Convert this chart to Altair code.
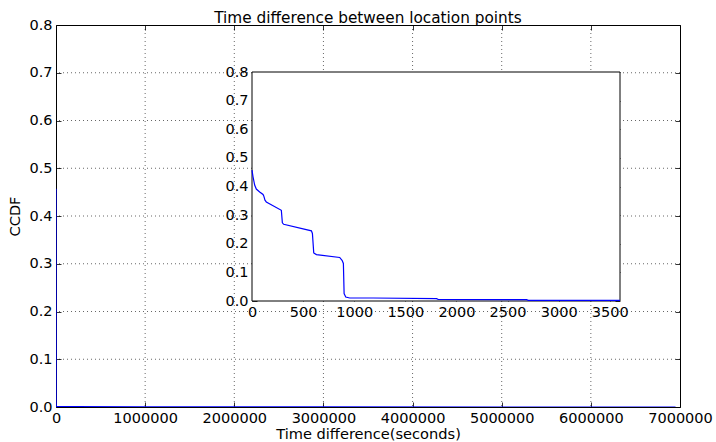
import altair as alt
import pandas as pd

# ---- data ----
# inset (first hour), seconds vs CCDF
time_s = [0, 10, 26, 42, 75, 108, 115, 127, 140, 287, 297, 310, 581, 591, 604, 630,
          858, 881, 894, 901, 917, 956, 1185, 1805, 1821, 2686, 2703, 3600]
ccdf = [0.457, 0.434, 0.405, 0.391, 0.381, 0.372, 0.367, 0.352, 0.346, 0.317, 0.273,
        0.268, 0.245, 0.236, 0.168, 0.162, 0.152, 0.142, 0.131, 0.026, 0.014, 0.0105,
        0.0105, 0.008, 0.006, 0.0047, 0.0023, 0.002]
# long tail shown only in the main plot
tail_time = [10000, 50000, 200000, 1000000, 3000000, 6950000]
tail_ccdf = [0.0015, 0.001, 0.0006, 0.0003, 0.0001, 0.0]

main_x_ticks = [0, 1000000, 2000000, 3000000, 4000000, 5000000, 6000000, 7000000]
main_y_ticks = [0.0, 0.1, 0.2, 0.3, 0.4, 0.5, 0.6, 0.7, 0.8]
inset_x_ticks = [0, 500, 1000, 1500, 2000, 2500, 3000, 3500]
inset_y_ticks = [0.0, 0.1, 0.2, 0.3, 0.4, 0.5, 0.6, 0.7, 0.8]

main_x_domain = [0, 7000000]
main_y_domain = [0, 0.8]
inset_x_domain = [0, 3600]
inset_y_domain = [0, 0.8]

TITLE = "Time difference between location points"
XTITLE = "Time difference(seconds)"
YTITLE = "CCDF"

# ---- layout ----
W, H = 624, 382
PAD_L, PAD_T = 56, 25
INSET_X = [196, 564]
INSET_Y = [276, 47]
TICK = 5
FONT = "DejaVu Sans"
FS = 14.5
BLUE = "#0000ff"

main_df = pd.DataFrame({"t": time_s + tail_time, "c": ccdf + tail_ccdf})
inset_df = pd.DataFrame({"t": time_s, "c": ccdf})
rect_df = pd.DataFrame({"x0": [inset_x_domain[0]], "x1": [inset_x_domain[1]],
                        "y0": [inset_y_domain[0]], "y1": [inset_y_domain[1]]})

mx = alt.Scale(domain=main_x_domain, nice=False, zero=False)
my = alt.Scale(domain=main_y_domain, nice=False, zero=False)
ix = alt.Scale(domain=inset_x_domain, range=INSET_X, nice=False, zero=False)
iy = alt.Scale(domain=inset_y_domain, range=INSET_Y, nice=False, zero=False)

lab = dict(labelFont=FONT, labelFontSize=FS, labelColor="black",
           tickColor="black", tickWidth=0.8, tickSize=TICK, domain=False, grid=False)

main_xa = alt.Axis(orient="bottom", values=main_x_ticks, format="d", offset=-TICK,
                   labelPadding=4, title=XTITLE, titleFont=FONT, titleFontSize=14.6,
                   titleFontWeight="normal", titleColor="black", titlePadding=2,
                   labelFlush=False, labelOverlap=False, **lab)
main_ya = alt.Axis(orient="left", values=main_y_ticks, format=".1f", offset=-TICK,
                   labelPadding=4, title=YTITLE, titleFont=FONT, titleFontSize=14.6,
                   titleFontWeight="normal", titleColor="black", titlePadding=6,
                   labelFlush=False, labelOverlap=False, **lab)

grid_style = dict(color="black", strokeWidth=0.6, strokeDash=[1, 3])
gx = alt.Chart(pd.DataFrame({"t": main_x_ticks[1:-1]})).mark_rule(**grid_style).encode(
    x=alt.X("t:Q", scale=mx, axis=main_xa))
gy = alt.Chart(pd.DataFrame({"c": main_y_ticks[1:-1]})).mark_rule(**grid_style).encode(
    y=alt.Y("c:Q", scale=my, axis=main_ya))
main_line = alt.Chart(main_df).mark_line(color=BLUE, strokeWidth=1.2, clip=True).encode(
    x=alt.X("t:Q", scale=mx, axis=main_xa),
    y=alt.Y("c:Q", scale=my, axis=main_ya),
    order="t:Q")
L1 = alt.layer(gx, gy, main_line)

# main top / right inward ticks
L2 = alt.Chart(main_df).mark_line(strokeOpacity=0).encode(
    x=alt.X("t:Q", scale=mx, axis=alt.Axis(orient="top", values=main_x_ticks, labels=False,
                                             offset=-TICK, title=None, **lab)),
    y=alt.Y("c:Q", scale=my, axis=alt.Axis(orient="right", values=main_y_ticks, labels=False,
                                             offset=-TICK, title=None, **lab)))

# inset
in_xa = alt.Axis(orient="bottom", values=inset_x_ticks, format="d",
                 offset=-(H - INSET_Y[0]) - TICK, labelPadding=4, title=None,
                 labelFlush=False, labelOverlap=False, **lab)
in_ya = alt.Axis(orient="left", values=inset_y_ticks, format=".1f",
                 offset=-INSET_X[0] - TICK, labelPadding=4, title=None,
                 labelFlush=False, labelOverlap=False, **lab)
box = alt.Chart(rect_df).mark_rect(fill="white", stroke="black", strokeWidth=1).encode(
    x=alt.X("x0:Q", scale=ix, axis=in_xa), x2="x1:Q",
    y=alt.Y("y0:Q", scale=iy, axis=in_ya), y2="y1:Q")
in_line = alt.Chart(inset_df).mark_line(color=BLUE, strokeWidth=1.2).encode(
    x=alt.X("t:Q", scale=ix, axis=in_xa),
    y=alt.Y("c:Q", scale=iy, axis=in_ya),
    order="t:Q")
L3 = alt.layer(box, in_line)

L4 = alt.Chart(inset_df).mark_line(strokeOpacity=0).encode(
    x=alt.X("t:Q", scale=ix, axis=alt.Axis(orient="top", values=inset_x_ticks, labels=False,
                                             offset=-INSET_Y[1] - TICK, title=None, **lab)),
    y=alt.Y("c:Q", scale=iy, axis=alt.Axis(orient="right", values=inset_y_ticks, labels=False,
                                             offset=-(W - INSET_X[1]) - TICK, title=None, **lab)))

chart = alt.layer(L1, L2, L3, L4).resolve_scale(
    x="independent", y="independent").resolve_axis(
    x="independent", y="independent").properties(
    width=W, height=H, background="white",
    title=alt.Title(TITLE, font=FONT, fontSize=15.3, fontWeight="normal", color="black",
                    anchor="middle", frame="group", offset=-9),
    autosize=alt.AutoSizeParams(type="none"),
    padding={"left": PAD_L, "top": PAD_T, "right": 716 - PAD_L - W, "bottom": 442 - PAD_T - H},
).configure_view(stroke="black", strokeWidth=1)

chart.save("out.html", embed_options={"renderer": "svg", "actions": False})
